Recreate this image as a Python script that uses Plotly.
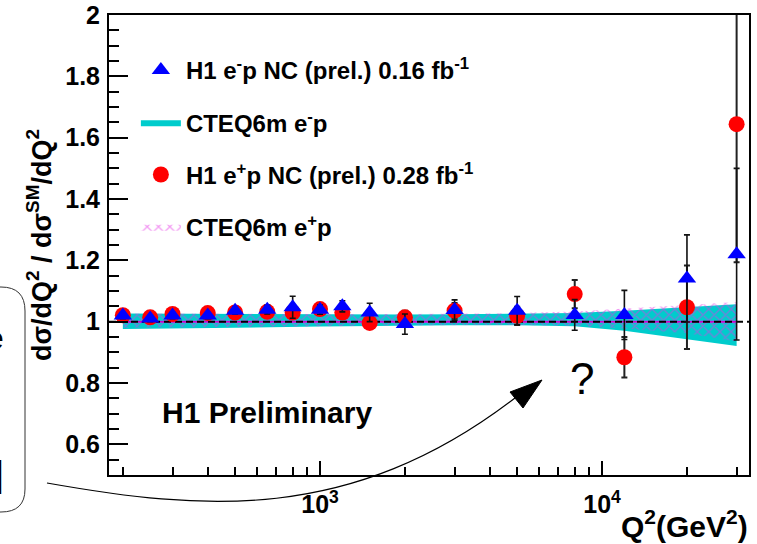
import math
import plotly.graph_objects as go

# ---------------- data ----------------
q2 = [200, 250, 300, 400, 500, 650, 800, 1000, 1200, 1500, 2000, 3000, 5000, 8000, 12000, 20000, 30000]

# H1 e-p NC (prel.) 0.16 fb-1
em_ratio = [1.020, 1.010, 1.020, 1.020, 1.036, 1.039, 1.047, 1.039, 1.050, 1.030, 0.992, 1.038, 1.036, 1.022, 1.022, 1.141, 1.220]
em_err = [0.010, 0.010, 0.010, 0.010, 0.012, 0.014, 0.036, 0.015, 0.018, 0.030, 0.033, 0.033, 0.046, 0.050, 0.080, 0.142, 0.280]

# H1 e+p NC (prel.) 0.28 fb-1
ep_ratio = [1.021, 1.014, 1.025, 1.028, 1.030, 1.032, 1.030, 1.041, 1.030, 0.996, 1.014, 1.036, 1.019, 1.090, 0.884, 1.047, 1.644]
ep_err = [0.008, 0.008, 0.008, 0.009, 0.010, 0.012, 0.014, 0.015, 0.018, 0.020, 0.022, 0.025, 0.030, 0.046, 0.066, 0.136, 0.450]

# CTEQ6m uncertainty bands (ratio to SM)
band_q2 = [200, 300, 500, 1000, 2000, 3000, 5000, 8000, 12000, 20000, 30000]
cteq_em_lo = [0.976, 0.977, 0.980, 0.984, 0.987, 0.988, 0.988, 0.985, 0.970, 0.943, 0.921]
cteq_em_hi = [1.027, 1.026, 1.025, 1.024, 1.023, 1.024, 1.025, 1.028, 1.036, 1.047, 1.057]
cteq_ep_lo = [0.980, 0.980, 0.982, 0.985, 0.988, 0.989, 0.989, 0.987, 0.978, 0.962, 0.935]
cteq_ep_hi = [1.027, 1.026, 1.026, 1.025, 1.025, 1.026, 1.028, 1.033, 1.042, 1.054, 1.064]
cteq_center = [1.0, 1.0, 1.0, 1.0, 1.0, 1.0, 1.0, 1.0, 1.0, 1.0, 1.0]

q2_axis_range = [178.6, 33190]
unity_line = [1.0, 1.0]

y_tickvals = [0.6, 0.8, 1.0, 1.2, 1.4, 1.6, 1.8, 2.0]
y_ticktext = ["0.6", "0.8", "1", "1.2", "1.4", "1.6", "1.8", "2"]
x_tickvals = [1000, 10000]
x_ticktext = ["10<sup>3</sup>", "10<sup>4</sup>"]
x_minor_vals = [200, 300, 400, 500, 600, 700, 800, 900,
                2000, 3000, 4000, 5000, 6000, 7000, 8000, 9000, 20000, 30000]

FONT = "Liberation Sans, Arial, Helvetica, sans-serif"
W, H = 757, 544
ML, MR, MT, MB = 109, 8, 15, 69
PW, PH = W - ML - MR, H - MT - MB


def px(x):
    return (x - ML) / PW


def py(y):
    return (H - MB - y) / PH


fig = go.Figure()

# CTEQ6m e-p band (cyan)
fig.add_trace(go.Scatter(
    x=band_q2 + band_q2[::-1], y=cteq_em_hi + cteq_em_lo[::-1],
    fill="toself", fillcolor="#00cccc", mode="lines",
    line=dict(width=0, color="#00ffff"),
    name="<b>CTEQ6m e<sup>-</sup>p</b>", legendgroup="g2", legendrank=2,
    hoverinfo="skip"))
fig.add_trace(go.Scatter(
    x=band_q2, y=cteq_center, mode="lines",
    line=dict(width=2, color="#33ffff"), showlegend=False,
    legendgroup="g2", hoverinfo="skip"))

# CTEQ6m e+p band (magenta hatch)
fig.add_trace(go.Scatter(
    x=band_q2 + band_q2[::-1], y=cteq_ep_hi + cteq_ep_lo[::-1],
    fill="toself", fillcolor="rgba(0,0,0,0)", mode="lines",
    fillpattern=dict(shape="x", fgcolor="#e633e6", bgcolor="rgba(0,0,0,0)",
                     size=8, solidity=0.3, fillmode="overlay"),
    line=dict(width=0, color="#cc00cc"),
    name="<b>CTEQ6m e<sup>+</sup>p</b>", legendgroup="g4", legendrank=4,
    hoverinfo="skip"))
fig.add_trace(go.Scatter(
    x=band_q2, y=cteq_center, mode="lines",
    line=dict(width=2, color="#cc00cc"), showlegend=False,
    legendgroup="g4", hoverinfo="skip"))

# SM = 1 dashed line
fig.add_trace(go.Scatter(
    x=q2_axis_range, y=unity_line, mode="lines",
    line=dict(width=2, color="black", dash="7px,4px"),
    showlegend=False, hoverinfo="skip"))

# e+p data
fig.add_trace(go.Scatter(
    x=q2, y=ep_ratio, mode="markers",
    marker=dict(symbol="circle", size=16, color="#ff0000"),
    error_y=dict(type="data", array=ep_err, color="#222222", thickness=2, width=3),
    name="<b>H1 e<sup>+</sup>p NC (prel.) 0.28 fb<sup>-1</sup></b>",
    legendgroup="g3", legendrank=3))

# e-p data
fig.add_trace(go.Scatter(
    x=q2, y=em_ratio, mode="markers",
    marker=dict(symbol="triangle-up", size=16, color="#0000ff"),
    error_y=dict(type="data", array=em_err, color="#111111", thickness=1.6, width=3),
    name="<b>H1 e<sup>-</sup>p NC (prel.) 0.16 fb<sup>-1</sup></b>",
    legendgroup="g1", legendrank=1))

# ---------------- decorations ----------------
shapes = []
# rounded box partially visible at the left edge
box = [(-20, 287), (1, 287), (25, 287), (25, 311), (25, 489), (25, 512), (1, 512), (-20, 512)]
b = [(px(x), py(y)) for x, y in box]
shapes.append(dict(
    type="path", xref="paper", yref="paper",
    path=(f"M{b[0][0]},{b[0][1]} L{b[1][0]},{b[1][1]} Q{b[2][0]},{b[2][1]} {b[3][0]},{b[3][1]} "
          f"L{b[4][0]},{b[4][1]} Q{b[5][0]},{b[5][1]} {b[6][0]},{b[6][1]} L{b[7][0]},{b[7][1]}"),
    line=dict(color="#333333", width=1)))
# curved arrow
c = [(px(x), py(y)) for x, y in [(47, 483), (200, 510), (350, 525), (515, 398)]]
shapes.append(dict(
    type="path", xref="paper", yref="paper",
    path=f"M{c[0][0]},{c[0][1]} C{c[1][0]},{c[1][1]} {c[2][0]},{c[2][1]} {c[3][0]},{c[3][1]}",
    line=dict(color="black", width=1.2)))
h = [(px(x), py(y)) for x, y in [(542, 380), (510, 392), (523, 408)]]
shapes.append(dict(
    type="path", xref="paper", yref="paper",
    path=f"M{h[0][0]},{h[0][1]} L{h[1][0]},{h[1][1]} L{h[2][0]},{h[2][1]} Z",
    fillcolor="black", line=dict(color="black", width=1)))

annotations = [
    dict(text="<b>H1 Preliminary</b>", xref="paper", yref="paper",
         x=px(160), y=py(412), xanchor="left", yanchor="middle", showarrow=False,
         font=dict(family=FONT, size=30, color="black")),
    dict(text="?", xref="paper", yref="paper",
         x=px(582), y=py(378), xanchor="center", yanchor="middle", showarrow=False,
         font=dict(family=FONT, size=44, color="black")),
    dict(text="<b>Q<sup>2</sup>(GeV<sup>2</sup>)</b>", xref="paper", yref="paper",
         x=px(750), y=py(524), xanchor="right", yanchor="middle", showarrow=False,
         font=dict(family=FONT, size=30, color="black")),
    dict(text="e", xref="paper", yref="paper",
         x=px(6), y=py(338), xanchor="right", yanchor="middle", showarrow=False,
         font=dict(family=FONT, size=32, color="black")),
    dict(text="l", xref="paper", yref="paper",
         x=px(6), y=py(478), xanchor="right", yanchor="middle", showarrow=False,
         font=dict(family=FONT, size=46, color="black")),
]

fig.update_layout(
    width=W, height=H,
    margin=dict(l=ML, r=MR, t=MT, b=MB, autoexpand=False),
    paper_bgcolor="white", plot_bgcolor="white",
    font=dict(family=FONT, color="black"),
    showlegend=True,
    legend=dict(x=0.042, y=py(48), xanchor="left", yanchor="top",
                bgcolor="rgba(0,0,0,0)", borderwidth=0,
                font=dict(family=FONT, size=24, color="black"),
                traceorder="grouped", tracegroupgap=18, itemwidth=40),
    shapes=shapes, annotations=annotations,
)

fig.update_xaxes(
    type="log", range=[math.log10(q2_axis_range[0]), math.log10(q2_axis_range[1])],
    automargin=False,
    tickmode="array", tickvals=x_tickvals, ticktext=x_ticktext,
    ticks="inside", ticklen=14, tickwidth=1.5, tickcolor="black",
    minor=dict(tickmode="array", tickvals=x_minor_vals, ticks="inside",
               ticklen=8, tickwidth=1.5, tickcolor="black", showgrid=False),
    tickfont=dict(family=FONT, size=25, color="black", weight="bold"),
    ticklabelstandoff=6,
    showline=True, linecolor="black", linewidth=2, mirror=True,
    showgrid=False, zeroline=False)

fig.update_yaxes(
    range=[0.5, 2.0], automargin=False,
    tickmode="array", tickvals=y_tickvals, ticktext=y_ticktext,
    ticks="inside", ticklen=19, tickwidth=1.5, tickcolor="black",
    minor=dict(tickmode="linear", tick0=0.5, dtick=0.05, ticks="inside",
               ticklen=10, tickwidth=1.5, tickcolor="black", showgrid=False),
    tickfont=dict(family=FONT, size=25, color="black", weight="bold"),
    ticklabelstandoff=2,
    title=dict(text="<b>dσ/dQ<sup>2</sup> / dσ<sup>SM</sup>/dQ<sup>2</sup></b>",
               font=dict(family=FONT, size=27, color="black"), standoff=6),
    showline=True, linecolor="black", linewidth=2, mirror=True,
    showgrid=False, zeroline=False)

fig.write_html(
    "out.html",
    config={"displayModeBar": False},
    post_script="document.body.style.margin='0px';document.body.style.padding='0px';")
